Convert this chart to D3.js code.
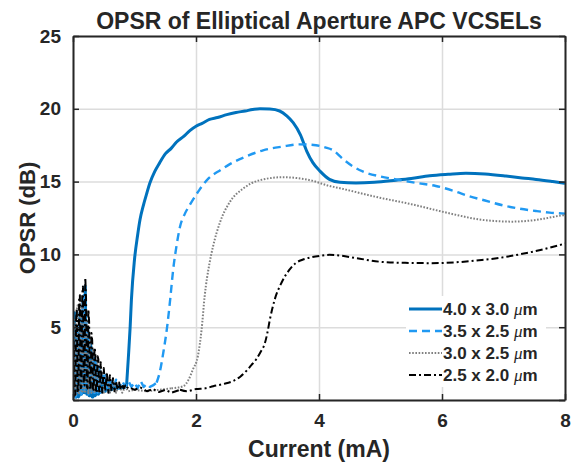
<!DOCTYPE html>
<html><head><meta charset="utf-8">
<script src="https://cdn.jsdelivr.net/npm/d3@7"></script>
<style>
body{margin:0;background:#fff}
text{font-family:"Liberation Sans",Arial,Helvetica,sans-serif;font-weight:bold;fill:#262626}
</style>
</head><body>
<svg id="c" width="579" height="463"></svg>
<script>
// ---- data (current in mA, OPSR in dB) ----
const seriesNames = ["4.0 x 3.0 ", "3.5 x 2.5 ", "3.0 x 2.5 ", "2.5 x 2.0 "];
const xTicks = [0, 2, 4, 6, 8];
const yTicks = [0, 5, 10, 15, 20, 25];
const yTickLabels = ["", "5", "10", "15", "20", "25"];

const opsr_40x30 = [[0,1.0],[0.012,5.2],[0.025,6.0],[0.037,0.3],[0.05,0.2],[0.062,5.0],[0.075,4.5],[0.087,0.2],[0.1,0.3],[0.112,6.0],[0.125,5.5],[0.137,0.4],[0.15,0.5],[0.162,6.8],[0.175,6.5],[0.187,0.5],[0.2,7.8],[0.212,1.0],[0.225,0.4],[0.237,5.0],[0.25,4.0],[0.262,0.3],[0.275,0.3],[0.287,3.8],[0.3,3.2],[0.312,0.2],[0.325,0.2],[0.337,2.9],[0.35,2.5],[0.362,0.3],[0.375,0.4],[0.387,2.4],[0.4,2.0],[0.412,0.4],[0.425,0.5],[0.437,2.0],[0.45,1.8],[0.475,0.6],[0.5,1.6],[0.525,0.6],[0.55,1.4],[0.575,0.7],[0.6,1.2],[0.625,0.7],[0.65,1.1],[0.675,0.8],[0.7,1.0],[0.725,0.8],[0.75,0.95],[0.775,0.8],[0.8,0.85],[0.83,0.85],[0.87,0.94],[0.9,2.9],[0.93,5.07],[0.95,6.9],[1.0,9.65],[1.05,11.3],[1.09,12.4],[1.14,13.3],[1.2,14.2],[1.25,14.9],[1.33,15.7],[1.41,16.3],[1.5,16.9],[1.6,17.3],[1.68,17.7],[1.8,18.1],[1.9,18.5],[2.0,18.8],[2.1,19.0],[2.22,19.27],[2.35,19.4],[2.5,19.6],[2.65,19.75],[2.8,19.85],[2.92,19.95],[3.04,20.0],[3.2,19.98],[3.36,19.85],[3.48,19.5],[3.58,19.05],[3.7,18.2],[3.8,17.1],[3.9,16.3],[4.02,15.7],[4.17,15.15],[4.34,14.95],[4.6,14.9],[4.9,14.95],[5.25,15.1],[5.5,15.22],[5.8,15.4],[6.1,15.5],[6.39,15.57],[6.7,15.52],[7.04,15.38],[7.3,15.25],[7.53,15.15],[7.8,15.0],[8.0,14.88]];

const opsr_35x25 = [[0,0.5],[0.012,3.5],[0.025,4.0],[0.037,0.2],[0.05,0.3],[0.062,4.6],[0.075,5.0],[0.087,0.3],[0.1,0.4],[0.112,5.6],[0.125,6.0],[0.137,0.4],[0.15,0.5],[0.162,6.9],[0.175,7.2],[0.187,0.5],[0.2,0.6],[0.212,5.5],[0.225,5.0],[0.237,0.4],[0.25,0.4],[0.262,4.2],[0.275,3.8],[0.3,0.5],[0.325,3.2],[0.35,0.4],[0.375,2.6],[0.4,0.5],[0.425,2.2],[0.45,0.5],[0.475,1.9],[0.5,0.6],[0.525,1.7],[0.55,0.6],[0.6,1.5],[0.65,0.7],[0.7,1.4],[0.75,0.8],[0.8,1.3],[0.85,0.9],[0.9,1.3],[0.95,0.9],[1.0,1.2],[1.05,0.8],[1.1,1.3],[1.15,0.9],[1.2,1.1],[1.25,0.9],[1.3,1.0],[1.36,1.2],[1.41,1.9],[1.47,3.3],[1.53,5.0],[1.58,6.9],[1.63,9.0],[1.68,10.5],[1.74,11.9],[1.82,12.8],[1.9,13.4],[2.05,14.4],[2.2,15.2],[2.4,15.8],[2.55,16.2],[2.8,16.7],[3.09,17.15],[3.4,17.4],[3.69,17.56],[3.95,17.5],[4.1,17.35],[4.23,17.15],[4.39,16.55],[4.55,16.05],[4.71,15.7],[5.0,15.35],[5.25,15.15],[5.6,14.9],[5.9,14.7],[6.2,14.35],[6.44,14.0],[6.7,13.7],[6.99,13.37],[7.25,13.15],[7.53,12.98],[7.75,12.87],[8.0,12.8]];

const opsr_30x25 = [[0,1.5],[0.012,5.0],[0.025,5.5],[0.037,0.3],[0.05,0.4],[0.062,6.2],[0.075,6.5],[0.087,0.4],[0.1,0.5],[0.112,6.5],[0.125,6.8],[0.137,0.5],[0.15,0.6],[0.162,6.3],[0.175,6.0],[0.187,0.5],[0.2,0.5],[0.212,5.4],[0.225,5.0],[0.25,0.4],[0.275,4.2],[0.3,0.5],[0.325,3.4],[0.35,0.5],[0.4,2.7],[0.425,0.5],[0.45,2.3],[0.5,0.5],[0.55,1.8],[0.6,0.5],[0.65,1.4],[0.7,0.5],[0.75,1.1],[0.8,0.5],[0.85,0.9],[0.9,0.6],[1.0,0.7],[1.2,0.6],[1.4,0.7],[1.6,0.8],[1.79,0.94],[1.88,1.4],[1.95,2.1],[2.03,3.0],[2.09,4.8],[2.14,7.1],[2.22,9.4],[2.28,10.6],[2.39,12.2],[2.55,13.6],[2.76,14.5],[3.04,15.1],[3.41,15.3],[3.9,15.05],[4.17,14.7],[4.28,14.6],[4.98,13.9],[5.5,13.45],[5.96,12.98],[6.3,12.65],[6.6,12.4],[7.14,12.25],[7.5,12.35],[7.96,12.68],[8.0,12.7]];

const opsr_25x20 = [[0,2.5],[0.012,4.0],[0.025,0.3],[0.037,0.4],[0.05,5.5],[0.062,6.3],[0.075,0.5],[0.087,0.6],[0.1,7.0],[0.112,7.2],[0.125,0.8],[0.137,0.9],[0.15,7.3],[0.162,7.8],[0.175,1.0],[0.187,1.0],[0.2,8.4],[0.212,7.0],[0.225,0.9],[0.237,0.8],[0.25,6.2],[0.262,5.4],[0.275,0.7],[0.287,0.7],[0.3,4.6],[0.312,4.1],[0.325,0.6],[0.337,0.6],[0.35,3.6],[0.362,3.3],[0.375,0.5],[0.387,0.5],[0.4,3.0],[0.412,2.8],[0.425,0.6],[0.437,0.6],[0.45,2.6],[0.475,0.5],[0.5,2.2],[0.525,0.6],[0.55,1.9],[0.575,0.5],[0.6,1.7],[0.625,0.6],[0.65,1.5],[0.675,0.6],[0.7,1.3],[0.725,0.7],[0.75,1.2],[0.775,0.7],[0.8,1.1],[0.825,0.8],[0.85,1.0],[0.875,0.8],[0.9,0.9],[1.0,0.7],[1.1,0.85],[1.2,0.6],[1.3,0.75],[1.4,0.55],[1.5,0.7],[1.6,0.5],[1.74,0.7],[1.85,0.6],[2.0,0.75],[2.15,0.8],[2.28,0.95],[2.45,1.1],[2.6,1.3],[2.72,1.6],[2.82,2.0],[2.9,2.4],[2.98,2.8],[3.05,3.3],[3.12,3.9],[3.16,4.6],[3.2,5.5],[3.28,6.9],[3.39,8.05],[3.52,8.95],[3.62,9.4],[3.74,9.65],[3.87,9.8],[4.01,9.9],[4.17,9.97],[4.28,9.95],[4.6,9.75],[4.98,9.5],[5.4,9.42],[5.8,9.4],[6.2,9.45],[6.6,9.6],[7.0,9.8],[7.26,10.0],[7.6,10.3],[7.96,10.7],[8.0,10.75]];

const seriesData = [opsr_40x30, opsr_35x25, opsr_30x25, opsr_25x20];
const noiseEnd = [0.87, 1.36, 1.6, 1.74];   // end of noisy sub-threshold part (mA)
const seriesColors = ["#0072BD", "#2099F2", "#808080", "#000000"];
const seriesDash = [null, "8,5", "1.6,1.6", "7,3,2,3"];
const seriesWidth = [3, 2.4, 2, 2];

// ---- layout ----
const svg = d3.select("#c");
const L = 73, R = 565, T = 36, B = 400;
const x = d3.scaleLinear().domain([0, 8]).range([L, R]);
const y = d3.scaleLinear().domain([0, 25]).range([B, T]);

svg.append("rect").attr("x", 0).attr("y", 0).attr("width", 579).attr("height", 463).attr("fill", "#fff");

// grid
const grid = svg.append("g");
grid.append("g").attr("transform", `translate(0,${B})`)
  .call(d3.axisBottom(x).tickValues(xTicks).tickSize(-(B - T)).tickFormat(""))
  .call(g => g.select(".domain").remove())
  .selectAll("line").attr("stroke", "#dcdcdc").attr("stroke-width", 1.5);
grid.append("g").attr("transform", `translate(${L},0)`)
  .call(d3.axisLeft(y).tickValues(yTicks).tickSize(-(R - L)).tickFormat(""))
  .call(g => g.select(".domain").remove())
  .selectAll("line").attr("stroke", "#dcdcdc").attr("stroke-width", 1.5);

// clip
svg.append("clipPath").attr("id", "pc").append("rect")
  .attr("x", L).attr("y", T).attr("width", R - L).attr("height", B - T);

const lineLin = d3.line().x(d => x(d[0])).y(d => y(d[1])).curve(d3.curveLinear);
const lineSm = d3.line().x(d => x(d[0])).y(d => y(d[1])).curve(d3.curveMonotoneX);
const plot = svg.append("g").attr("clip-path", "url(#pc)");
seriesData.forEach((s, i) => {
  const k = s.findIndex(d => d[0] >= noiseEnd[i]);
  const parts = [[s.slice(0, k + 1), lineLin], [s.slice(k), lineSm]];
  parts.forEach(([pts, gen]) => {
    plot.append("path").datum(pts).attr("d", gen)
      .attr("fill", "none").attr("stroke", seriesColors[i])
      .attr("stroke-width", seriesWidth[i])
      .attr("stroke-dasharray", seriesDash[i])
      .attr("stroke-linejoin", "round");
  });
});

// legend
const lg = svg.append("g");
lg.append("rect").attr("x", 406).attr("y", 296).attr("width", 140).attr("height", 91).attr("fill", "#fff");
seriesNames.forEach((n, i) => {
  const yy = 309 + i * 22;
  lg.append("line").attr("x1", 409).attr("x2", 442).attr("y1", yy).attr("y2", yy)
    .attr("stroke", seriesColors[i]).attr("stroke-width", seriesWidth[i])
    .attr("stroke-dasharray", seriesDash[i]);
  const t = lg.append("text").attr("x", 443).attr("y", yy + 6).style("font-size", "17px").attr("fill", "#000");
  t.append("tspan").text(n);
  t.append("tspan").text("\u03bc").style("font-family", "'Liberation Serif',serif").style("font-style", "italic").style("font-weight", "normal");
  t.append("tspan").text("m");
});

// axes box with inward ticks
const ax = svg.append("g");
const styleAxis = g => { g.selectAll("line").attr("stroke", "#262626").attr("stroke-width", 1.5);
  g.select(".domain").attr("stroke", "#262626").attr("stroke-width", 2); };
ax.append("g").attr("transform", `translate(0,${B})`)
  .call(d3.axisBottom(x).tickValues(xTicks).tickSizeInner(-6).tickSizeOuter(0).tickPadding(14).tickFormat(d3.format("d")))
  .call(styleAxis)
  .selectAll("text").style("font-size", "19px").attr("fill", "#262626");
ax.append("g").attr("transform", `translate(0,${T})`)
  .call(d3.axisTop(x).tickValues(xTicks).tickSizeInner(-6).tickSizeOuter(0).tickFormat(""))
  .call(styleAxis);
ax.append("g").attr("transform", `translate(${L},0)`)
  .call(d3.axisLeft(y).tickValues(yTicks).tickSizeInner(-6).tickSizeOuter(0).tickPadding(12).tickFormat((d, i) => yTickLabels[i]))
  .call(styleAxis)
  .selectAll("text").style("font-size", "19px").attr("fill", "#262626");
ax.append("g").attr("transform", `translate(${R},0)`)
  .call(d3.axisRight(y).tickValues(yTicks).tickSizeInner(-6).tickSizeOuter(0).tickFormat(""))
  .call(styleAxis);

// titles
svg.append("text").attr("x", (L + R) / 2).attr("y", 29).attr("text-anchor", "middle")
  .style("font-size", "23px").attr("fill", "#000").text("OPSR of Elliptical Aperture APC VCSELs");
svg.append("text").attr("x", (L + R) / 2).attr("y", 457).attr("text-anchor", "middle")
  .style("font-size", "23px").text("Current (mA)");
svg.append("text").attr("transform", `translate(35,${(T + B) / 2}) rotate(-90)`).attr("text-anchor", "middle")
  .style("font-size", "22px").text("OPSR (dB)");
</script>
</body></html>
